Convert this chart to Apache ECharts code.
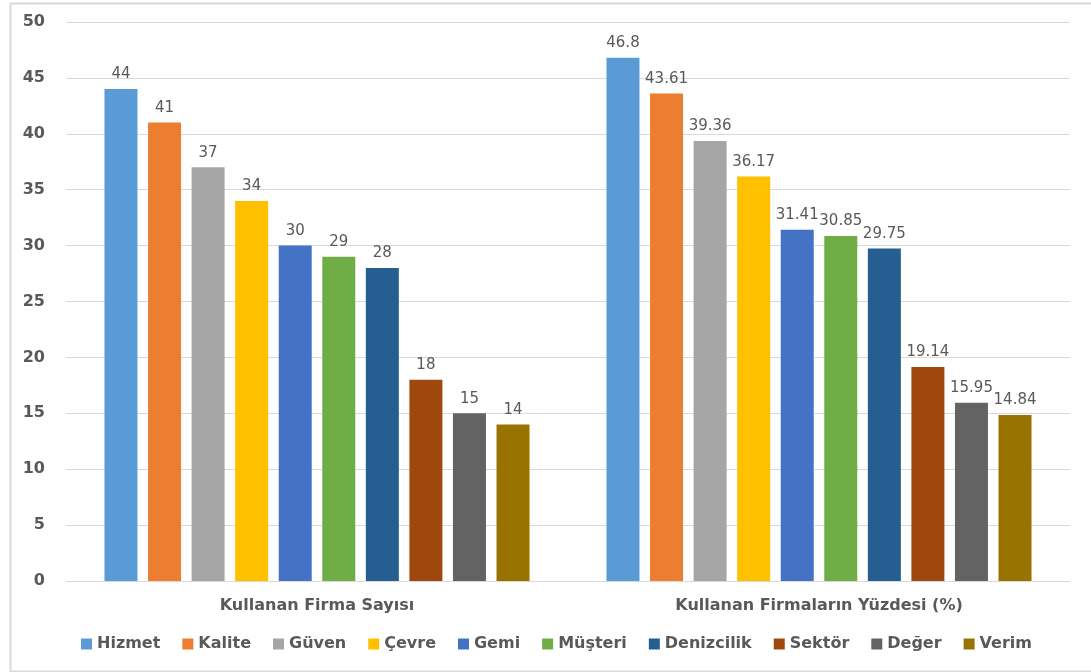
<!DOCTYPE html>
<html>
<head>
<meta charset="utf-8">
<script src="https://cdn.jsdelivr.net/npm/echarts@6/dist/echarts.min.js"></script>
<style>html,body{margin:0;padding:0;background:#fff;}#c{width:1091px;height:672px;}</style>
</head>
<body>
<div id="c"></div>
<script>
const categories = ['Kullanan Firma Sayısı', 'Kullanan Firmaların Yüzdesi (%)'];
const seriesNames = ['Hizmet', 'Kalite', 'Güven', 'Çevre', 'Gemi', 'Müşteri', 'Denizcilik', 'Sektör', 'Değer', 'Verim'];
const hizmet = [44, 46.8];
const kalite = [41, 43.61];
const guven = [37, 39.36];
const cevre = [34, 36.17];
const gemi = [30, 31.41];
const musteri = [29, 30.85];
const denizcilik = [28, 29.75];
const sektor = [18, 19.14];
const deger = [15, 15.95];
const verim = [14, 14.84];
const yTicks = [0, 5, 10, 15, 20, 25, 30, 35, 40, 45, 50];
const colors = ['#5B9BD5', '#ED7D31', '#A5A5A5', '#FFC000', '#4472C4', '#70AD47', '#255E91', '#9E480E', '#636363', '#997300'];

const allData = [hizmet, kalite, guven, cevre, gemi, musteri, denizcilik, sektor, deger, verim];
const font = 'DejaVu Sans';
const chart = echarts.init(document.getElementById('c'));
chart.setOption({
  animation: false,
  color: colors,
  graphic: [{
    type: 'rect', left: 8, top: 1,
    shape: { width: 1082, height: 668 },
    style: { fill: 'none', stroke: '#d9d9d9', lineWidth: 2 }
  }],
  grid: { left: 66, right: 21, top: 22, bottom: 91, containLabel: false },
  legend: {
    bottom: 15, left: 76,
    itemWidth: 11, itemHeight: 11, itemGap: 22,
    icon: 'rect',
    textStyle: { fontFamily: font, fontWeight: 'bold', fontSize: 16, color: '#595959' },
    data: seriesNames
  },
  xAxis: {
    type: 'category', data: categories,
    axisTick: { show: false },
    axisLine: { lineStyle: { color: '#d9d9d9', width: 1 } },
    axisLabel: { fontFamily: font, fontWeight: 'bold', fontSize: 16, color: '#595959', margin: 17 }
  },
  yAxis: {
    type: 'value', min: yTicks[0], max: yTicks[yTicks.length - 1], interval: 5,
    axisLine: { show: false }, axisTick: { show: false },
    splitLine: { lineStyle: { color: '#d9d9d9', width: 1 } },
    axisLabel: { fontFamily: font, fontWeight: 'bold', fontSize: 16, color: '#595959', margin: 21 }
  },
  series: seriesNames.map((n, i) => ({
    name: n, type: 'bar', data: allData[i],
    barWidth: 33, barGap: '32%',
    label: { show: true, position: 'top', distance: 7, fontFamily: font, fontSize: 15, color: '#595959' }
  }))
});
</script>
</body>
</html>
